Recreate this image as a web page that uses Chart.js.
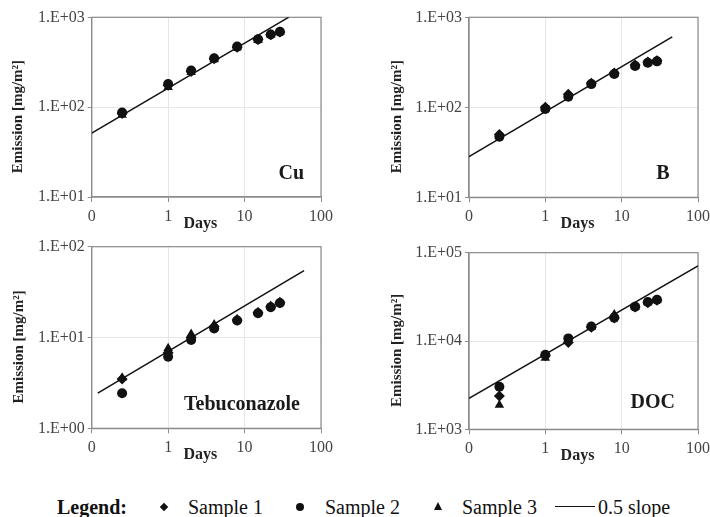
<!DOCTYPE html>
<html><head><meta charset="utf-8">
<script src="https://cdn.jsdelivr.net/npm/chart.js@4.4.1/dist/chart.umd.min.js"></script>
<style>
html,body{margin:0;padding:0;background:#fff;width:710px;height:517px;overflow:hidden;position:relative;}
canvas{position:absolute;}
.lg{position:absolute;font-family:"Liberation Serif","Times New Roman",serif;font-size:20px;line-height:20px;color:#111;white-space:nowrap;}
.lgb{font-weight:bold;}
.mk{position:absolute;background:#111;}
</style></head><body>
<canvas id="c0"></canvas><canvas id="c1"></canvas><canvas id="c2"></canvas><canvas id="c3"></canvas>
<div class="lg lgb" style="left:57px;top:497px;">Legend:</div>
<div class="mk" style="left:161px;top:504px;width:6px;height:6px;transform:rotate(45deg);"></div>
<div class="lg" style="left:188px;top:497px;">Sample 1</div>
<div class="mk" style="left:296px;top:503px;width:8px;height:8px;border-radius:50%;"></div>
<div class="lg" style="left:325px;top:497px;">Sample 2</div>
<div style="position:absolute;left:434px;top:502px;width:0;height:0;border-left:4.5px solid transparent;border-right:4.5px solid transparent;border-bottom:8px solid #111;"></div>
<div class="lg" style="left:462px;top:497px;">Sample 3</div>
<div style="position:absolute;left:555px;top:506px;width:40px;height:0;border-top:1.3px solid #111;"></div>
<div class="lg" style="left:598px;top:497px;">0.5 slope</div>
<script>
// ---- data ----
const days = [0.25, 1, 2, 4, 8, 15, 22, 29];
const xTickValues = [0.1, 1, 10, 100];
const xTickLabels = ['0', '1', '10', '100'];
const seriesNames = ['Sample 1', 'Sample 2', 'Sample 3'];
const panelNames = ['Cu', 'B', 'Tebuconazole', 'DOC'];

const cuS1 = [85, 175, 250, 345, 465, 565, 640, 685];
const cuS2 = [87, 181, 255, 350, 472, 570, 645, 690];
const cuS3 = [82, 167, 245, 340, 460, 555, 638, 680];
const cuSlopeX = [0.1, 38];
const cuSlopeY = [51.5, 1004];
const cuYTicks = [10, 100, 1000];
const cuYLabels = ['1.E+01', '1.E+02', '1.E+03'];

const bS1 = [50, 100, 140, 185, 240, 295, 318, 330];
const bS2 = [47, 96, 131, 181, 234, 288, 313, 324];
const bS3 = [48, 97, 135, 183, 237, 290, 315, 326];
const bSlopeX = [0.1, 46];
const bSlopeY = [28.3, 607];
const bYTicks = [10, 100, 1000];
const bYLabels = ['1.E+01', '1.E+02', '1.E+03'];

const tebS1 = [3.5, 6.8, 10.0, 13.2, 15.6, 18.7, 21.8, 24.2];
const tebS2 = [2.43, 6.15, 9.4, 12.6, 15.4, 18.5, 21.6, 24.0];
const tebS3 = [3.6, 7.6, 10.9, 13.9, 15.9, 19.0, 22.2, 24.6];
const tebSlopeX = [0.12, 60];
const tebSlopeY = [2.44, 54.6];
const tebYTicks = [1, 10, 100];
const tebYLabels = ['1.E+00', '1.E+01', '1.E+02'];

const docS1 = [2380, 6800, 9600, 14300, 18200, 24200, 27200, 28900];
const docS2 = [3030, 7000, 10700, 14600, 18400, 24500, 27600, 29300];
const docS3 = [1885, 6400, 10200, 14400, 20000, 24300, 27300, 29000];
const docSlopeX = [0.1, 100];
const docSlopeY = [2245, 71000];
const docYTicks = [1000, 10000, 100000];
const docYLabels = ['1.E+03', '1.E+04', '1.E+05'];

// ---- layout (positions only) ----
const layouts = [
  {left:0,   top:0,   w:355, h:240, area:[91.7, 17.3, 321, 197],   yTitleX:18, labDx:17,   labDy:23},
  {left:355, top:0,   w:360, h:240, area:[114, 17.3, 343.3, 197.3], yTitleX:42, labDx:28.3, labDy:23.5},
  {left:0,   top:230, w:355, h:240, area:[91.7, 16.7, 321, 198.3], yTitleX:19, labDx:21,   labDy:23},
  {left:355, top:236, w:360, h:240, area:[114, 16.7, 343.3, 193.3], yTitleX:42, labDx:23,   labDy:26}
];

const panels = [
  {s:[cuS1, cuS2, cuS3], sx:cuSlopeX, sy:cuSlopeY, yt:cuYTicks, yl:cuYLabels},
  {s:[bS1, bS2, bS3], sx:bSlopeX, sy:bSlopeY, yt:bYTicks, yl:bYLabels},
  {s:[tebS1, tebS2, tebS3], sx:tebSlopeX, sy:tebSlopeY, yt:tebYTicks, yl:tebYLabels},
  {s:[docS1, docS2, docS3], sx:docSlopeX, sy:docSlopeY, yt:docYTicks, yl:docYLabels}
];

const SERIF = '"Liberation Serif", "Times New Roman", serif';
const INK = '#111';
const AXIS = '#8c8c8c';
const GRID = '#e6e6e6';
const styles = [
  {pointStyle:'rectRot', r:5.5},
  {pointStyle:'circle', r:5},
  {pointStyle:'triangle', r:5.5}
];

const framePlugin = {
  id: 'frame',
  beforeDatasetsDraw(chart) {
    const a = chart.chartArea, ctx = chart.ctx;
    ctx.save();
    ctx.strokeStyle = AXIS; ctx.lineWidth = 1.2;
    ctx.strokeRect(a.left, a.top, a.right - a.left, a.bottom - a.top);
    ctx.restore();
  },
  afterDraw(chart, args, opts) {
    const a = chart.chartArea, ctx = chart.ctx;
    ctx.save();
    ctx.font = 'bold 20px ' + SERIF;
    ctx.fillStyle = '#1a1a1a';
    ctx.textAlign = 'right';
    ctx.textBaseline = 'middle';
    ctx.fillText(opts.text, a.right - opts.dx, a.bottom - opts.dy);
    ctx.restore();
  }
};

panels.forEach((p, k) => {
  const L = layouts[k];
  const cv = document.getElementById('c' + k);
  cv.width = L.w; cv.height = L.h;
  cv.style.left = L.left + 'px'; cv.style.top = L.top + 'px';
  cv.style.width = L.w + 'px'; cv.style.height = L.h + 'px';
  const [al, at, ar, ab] = L.area;
  const xAxisH = L.h - ab;
  const titleLH = 16 * 1.2;

  const datasets = p.s.map((vals, i) => ({
    label: seriesNames[i],
    data: days.map((d, j) => ({x: d, y: vals[j]})),
    pointStyle: styles[i].pointStyle,
    pointRadius: styles[i].r,
    backgroundColor: INK,
    borderColor: INK,
    borderWidth: 0,
    showLine: false
  }));
  datasets.push({
    label: '0.5 slope',
    data: p.sx.map((x, j) => ({x: x, y: p.sy[j]})),
    showLine: true,
    borderColor: INK,
    borderWidth: 1.5,
    pointRadius: 0,
    fill: false
  });

  new Chart(cv, {
    type: 'scatter',
    data: {datasets},
    plugins: [framePlugin],
    options: {
      responsive: false,
      animation: false,
      devicePixelRatio: 1,
      layout: {padding: {left: 0, top: at, right: L.w - ar, bottom: 0}},
      plugins: {
        legend: {display: false},
        tooltip: {enabled: false},
        frame: {text: panelNames[k], dx: L.labDx, dy: L.labDy}
      },
      scales: {
        x: {
          type: 'logarithmic',
          min: 0.1, max: 100,
          afterBuildTicks: (ax) => { ax.ticks = xTickValues.map(v => ({value: v})); },
          afterFit: (ax) => { ax.height = xAxisH; },
          ticks: {
            callback: (v, i) => xTickLabels[i],
            font: {family: SERIF, size: 16},
            color: '#444',
            padding: 5,
            maxRotation: 0
          },
          grid: {color: GRID, tickColor: AXIS, tickLength: 5, lineWidth: 1},
          border: {color: AXIS, width: 1.2},
          title: {
            display: true,
            text: 'Days   ',
            font: {family: SERIF, size: 16, weight: 'bold'},
            color: '#222',
            padding: {top: 0, bottom: xAxisH - 27 - titleLH / 2}
          }
        },
        y: {
          type: 'logarithmic',
          min: p.yt[0], max: p.yt[p.yt.length - 1],
          afterBuildTicks: (ax) => { ax.ticks = p.yt.map(v => ({value: v})); },
          afterFit: (ax) => { ax.width = al; },
          ticks: {
            callback: (v, i) => p.yl[i],
            font: {family: SERIF, size: 16},
            color: '#444',
            padding: 3
          },
          grid: {color: GRID, tickColor: AXIS, tickLength: 4, lineWidth: 1},
          border: {color: AXIS, width: 1.2},
          title: {
            display: true,
            text: 'Emission [mg/m\u00B2]     ',
            font: {family: SERIF, size: 15, weight: 'bold'},
            color: '#222',
            padding: {top: L.yTitleX - 9, bottom: 0}
          }
        }
      }
    }
  });
});
</script>
</body></html>
